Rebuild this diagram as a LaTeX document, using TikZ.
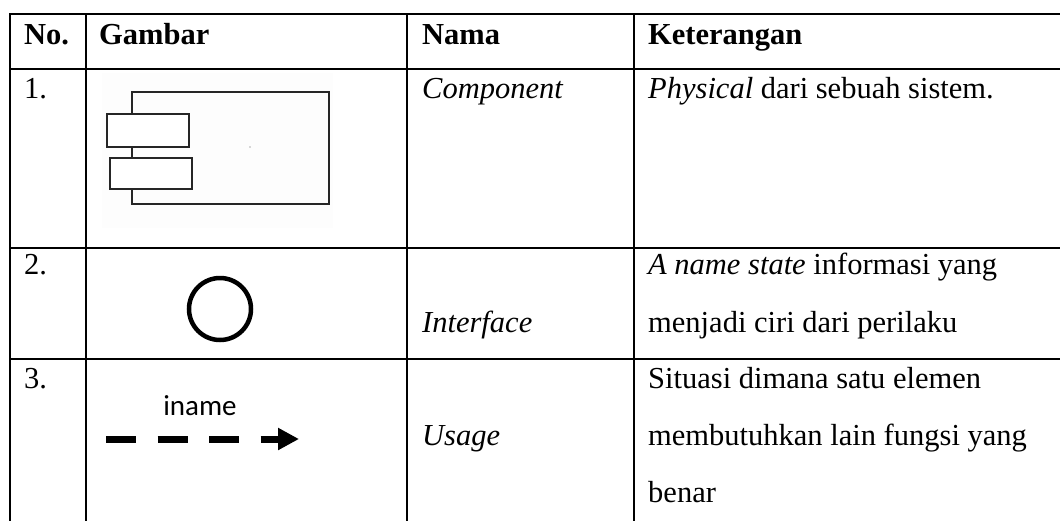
\documentclass[tikz,border=0pt]{standalone}
\usepackage{fontspec}
\setmainfont{Liberation Serif}
\newfontfamily\calibfont{Carlito}
\usetikzlibrary{arrows.meta}
\begin{document}
\begin{tikzpicture}[x=1pt,y=-1pt,
  grid/.style={line width=2.6pt, line cap=rect},
  txt/.style={anchor=base west, inner sep=0pt, font=\fontsize{30.5}{36}\selectfont},
  hdr/.style={txt, font=\fontsize{30.5}{36}\selectfont\bfseries},
  comp/.style={draw=black!85, line width=1.5pt},
  usagearrow/.style={line width=7pt, dash pattern=on 30pt off 21.5pt, -{Triangle[length=21pt,width=21pt]}}
]
\useasboundingbox (0,0) rectangle (1060,520);
% table grid
\draw[grid] (10,14) -- (1060,14);
\draw[grid] (10,69) -- (1060,69);
\draw[grid] (10,248) -- (1060,248);
\draw[grid] (10,359) -- (1060,359);
\draw[grid] (10,14) -- (10,520);
\draw[grid] (86,14) -- (86,520);
\draw[grid] (407,14) -- (407,520);
\draw[grid] (634,14) -- (634,520);
% header
\node[hdr] (hno) at (24,44) {No.};
\node[hdr] (hgam) at (99,44) {Gambar};
\node[hdr] (hnama) at (422,44) {Nama};
\node[hdr] (hket) at (648,44) {Keterangan};
% row 1
\node[txt] (n1) at (24,98) {1.};
\fill[black!0.8] (102,73) rectangle (333,228);
\draw[comp] (132,92) rectangle (329,204);
\draw[comp, fill=white] (107,114) rectangle (189,147);
\draw[comp, fill=white] (110,158) rectangle (192,189);
\fill[black!30] (250,147) circle (0.8pt);
\node[txt] (c1) at (422,98) {\itshape Component};
\node[txt] (k1) at (648,98) {\itshape Physical\upshape{} dari sebuah sistem.};
% row 2
\node[txt] (n2) at (24,274) {2.};
\node[circle, draw, line width=4.5pt, minimum size=62pt, inner sep=0pt] (iface) at (220,309) {};
\node[txt] (c2) at (422,332) {\itshape Interface};
\node[txt] (k2a) at (648,274) {\itshape A name state\upshape{} informasi yang};
\node[txt] (k2b) at (648,332) {menjadi ciri dari perilaku};
% row 3
\node[txt] (n3) at (24,388) {3.};
\node[anchor=base, inner sep=0pt, font=\fontsize{29}{34}\selectfont\calibfont] (iname) at (200,415) {iname};
\coordinate (us) at (106,439);
\coordinate (ue) at (299,439);
\draw[usagearrow] (us) -- (ue);
\node[txt] (c3) at (422,445) {\itshape Usage};
\node[txt] (k3a) at (648,388) {Situasi dimana satu elemen};
\node[txt] (k3b) at (648,445) {membutuhkan lain fungsi yang};
\node[txt] (k3c) at (648,502) {benar};
\end{tikzpicture}
\end{document}
